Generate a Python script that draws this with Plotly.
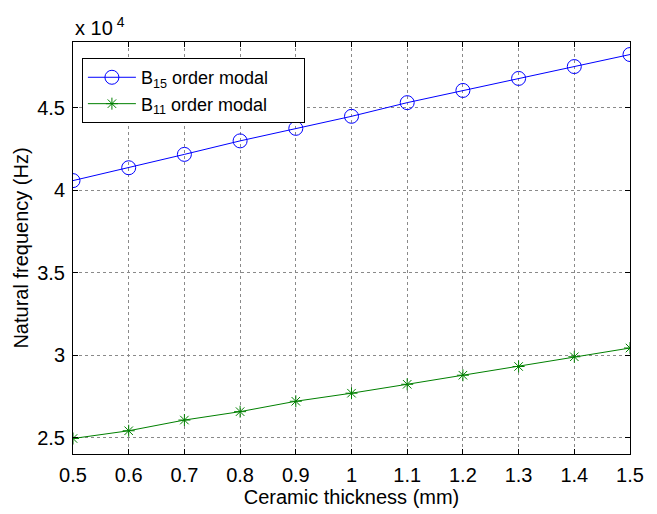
import plotly.graph_objects as go

thickness = [0.5, 0.6, 0.7, 0.8, 0.9, 1.0, 1.1, 1.2, 1.3, 1.4, 1.5]
b15 = [4.059, 4.137, 4.218, 4.300, 4.376, 4.449, 4.532, 4.606, 4.679, 4.751, 4.824]
b11 = [2.494, 2.541, 2.606, 2.657, 2.720, 2.769, 2.823, 2.878, 2.931, 2.990, 3.043]
xticks = [0.5, 0.6, 0.7, 0.8, 0.9, 1.0, 1.1, 1.2, 1.3, 1.4, 1.5]
xticklabels = ["0.5", "0.6", "0.7", "0.8", "0.9", "1", "1.1", "1.2", "1.3", "1.4", "1.5"]
yticks = [2.5, 3.0, 3.5, 4.0, 4.5]
yticklabels = ["2.5", "3", "3.5", "4", "4.5"]

font = "Liberation Sans, Arial, sans-serif"
fs = 20
pad = "&nbsp;" * 6

fig = go.Figure()
fig.add_trace(go.Scatter(
    x=thickness, y=b15, mode="lines+markers",
    name="B<sub>15</sub> order modal" + pad,
    line=dict(color="#0000ff", width=1),
    marker=dict(symbol="circle-open", size=14, color="#0000ff", line=dict(width=1)),
))
fig.add_trace(go.Scatter(
    x=thickness, y=b11, mode="lines+markers",
    name="B<sub>11</sub> order modal" + pad,
    line=dict(color="#008000", width=1),
    marker=dict(symbol="asterisk-open", size=10, color="#008000", line=dict(width=1, color="#008000")),
))

axis_common = dict(
    showline=True, linecolor="black", linewidth=1, mirror="ticks",
    ticks="inside", ticklen=5, tickcolor="black",
    showgrid=True, gridcolor="#8a8a8a", griddash="dot", gridwidth=1,
    zeroline=False,
    tickfont=dict(family=font, size=fs, color="black"),
)

fig.update_layout(
    width=657, height=514,
    margin=dict(l=73, r=27, t=42, b=60),
    paper_bgcolor="white", plot_bgcolor="white",
    font=dict(family=font, size=fs, color="black"),
    showlegend=True,
    legend=dict(
        x=0.016, y=0.961, xanchor="left", yanchor="top",
        bgcolor="white", bordercolor="black", borderwidth=1,
        font=dict(family=font, size=18, color="black"),
        tracegroupgap=0, itemwidth=48,
    ),
    xaxis=dict(
        range=[0.5, 1.5], tickvals=xticks, ticktext=xticklabels, ticklabelstandoff=3,
        title=dict(text="Ceramic thickness (mm)", font=dict(family=font, size=fs), standoff=3),
        **axis_common,
    ),
    yaxis=dict(
        range=[2.4, 4.9], tickvals=yticks, ticktext=yticklabels, ticklabelstandoff=3,
        title=dict(text="Natural frequency (Hz)", font=dict(family=font, size=fs), standoff=3),
        **axis_common,
    ),
    annotations=[dict(
        text="x 10<sup> 4</sup>", xref="paper", yref="paper", x=0.0, y=1.0,
        xanchor="left", yanchor="bottom", showarrow=False, yshift=1,
        font=dict(family=font, size=fs, color="black"),
    )],
)

fig.write_html("out.html")
